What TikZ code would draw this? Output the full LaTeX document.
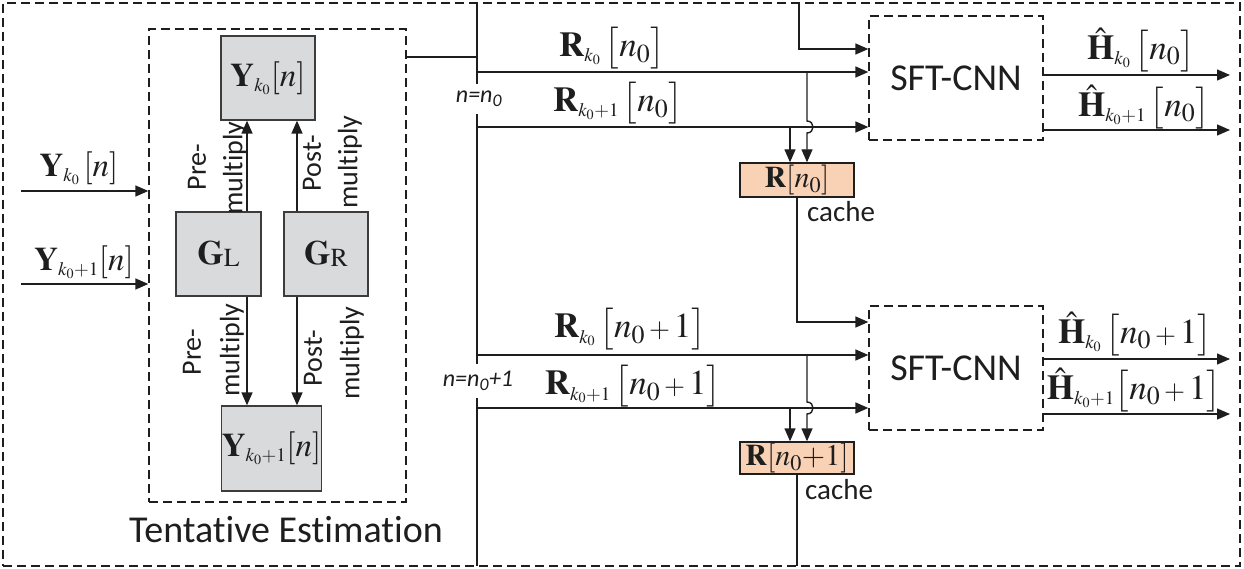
\documentclass[tikz,border=0pt]{standalone}
\usepackage{mathptmx}
\usepackage[no-math]{fontspec}
\setmainfont{Carlito}[Ligatures=NoCommon]
\usetikzlibrary{arrows.meta}
\newcommand\myfs[1]{\fontsize{#1}{#1}\selectfont}
\newcommand\sbs[1]{\mbox{\myfs{19}$#1$}}
\newcommand\pone{\,\mbox{\myfs{27}$+$}\,1}
\definecolor{boxgray}{HTML}{D9DADB}
\definecolor{boxedge}{HTML}{3C3C3C}
\definecolor{peach}{HTML}{F9D2B6}
\definecolor{ink}{HTML}{1E1E1E}
\begin{document}
\begin{tikzpicture}[x=1pt,y=-1pt,line width=1.4pt,color=ink,
 arr/.style={-{Triangle[length=13pt,width=11pt]}},
 dbox/.style={draw,dash pattern=on 9pt off 5pt,line width=1.3pt,inner sep=0},
 gbox/.style={draw=boxedge,fill=boxgray,inner sep=0,line width=1.3pt},
 cbox/.style={draw,fill=peach,inner sep=0,minimum width=114pt,font=\myfs{30}},
 txt/.style={inner sep=0,font=\myfs{28}},
 mlbl/.style={inner sep=0,font=\myfs{35}},
 ylbl/.style={inner sep=0,font=\myfs{33}},
 nlbl/.style={fill=white,inner xsep=1pt,inner ysep=7pt,font=\myfs{24}\itshape},
 ]
\useasboundingbox (0,0) rectangle (1244,569);
% frames
\node[dbox,minimum width=1237pt,minimum height=563pt] (outer) at (621.5,284.5) {};
\node[dbox,minimum width=257pt,minimum height=473pt] (tent) at (277.5,265.5) {};
\node[font=\myfs{38},inner sep=0] (tentlbl) at (286,530) {Tentative Estimation};
% gray boxes
\node[gbox,minimum width=94pt,minimum height=84pt,font=\myfs{33}] (Y0) at (268,78) {$\mathbf{Y}_{\sbs{k_0}}[n]$};
\node[gbox,minimum width=85pt,minimum height=84pt,font=\myfs{34}] (GL) at (218.5,254) {$\mathbf{G}$\raisebox{-2pt}{\myfs{26}$\mathrm{L}$}};
\node[gbox,minimum width=84pt,minimum height=84pt,font=\myfs{34}] (GR) at (326,254) {$\mathbf{G}$\raisebox{-2pt}{\myfs{26}$\mathrm{R}$}};
\node[gbox,minimum width=95pt,minimum height=85pt,font=\myfs{33}] (Y1) at (271.5,448.5) {$\mathbf{Y}_{\sbs{k_0{+}1}}[n]$};
% x positions
\coordinate (xa) at (247,0);
\coordinate (xb) at (297,0);
\draw[arr] (GL.north -| xa) -- (Y0.south -| xa);
\draw[arr] (GR.north -| xb) -- (Y0.south -| xb);
\draw[arr] (GL.south -| xa) -- (Y1.north -| xa);
\draw[arr] (GR.south -| xb) -- (Y1.north -| xb);
\node[txt,rotate=90] (pre1) at (197,167) {Pre-};
\node[txt,rotate=90] (mul1) at (235,168) {multiply};
\node[txt,rotate=90] (post1) at (312,163) {Post-};
\node[txt,rotate=90] (mul2) at (350,162) {multiply};
\node[txt,rotate=90] (pre2) at (192,352) {Pre-};
\node[txt,rotate=90] (mul3) at (232,350) {multiply};
\node[txt,rotate=90] (post2) at (313,358) {Post-};
\node[txt,rotate=90] (mul4) at (352,353) {multiply};
% inputs
\coordinate (i1) at (21,191);
\coordinate (i2) at (21,284);
\draw[arr] (i1) -- (tent.west |- i1);
\draw[arr] (i2) -- (tent.west |- i2);
\node[ylbl] (li1) at (79,168) {$\mathbf{Y}_{\sbs{k_0}}\,[n]$};
\node[ylbl] (li2) at (84,262) {$\mathbf{Y}_{\sbs{k_0{+}1}}[n]$};
% bus
\coordinate (bustop) at (477,3);
\coordinate (busbot) at (477,566);
\draw (bustop) -- (busbot);
\coordinate (t1) at (0,57);
\draw (tent.east |- t1) -- (bustop |- t1);
\node[nlbl] (nn0) at (479,99) {n=n\textsubscript{0}};
\node[nlbl] (nn1) at (478,381) {n=n\textsubscript{0}+1};
% SFT-CNN boxes
\node[dbox,minimum width=174pt,minimum height=124pt,font=\myfs{38}] (S1) at (956,78) {SFT-CNN};
\node[dbox,minimum width=174pt,minimum height=124pt,font=\myfs{38}] (S2) at (956,368) {SFT-CNN};
% caches
\node[cbox,minimum height=34pt] (C1) at (797,180) {$\mathbf{R}[n_0]$};
\node[cbox,minimum height=32pt] (C2) at (797,458) {$\mathbf{R}[n_0{+}1]$};
\node[txt,font=\myfs{29}] (cl1) at (841,212) {cache};
\node[txt,font=\myfs{29}] (cl2) at (839,490) {cache};
% R lines first stage
\coordinate (r1) at (477,72);
\coordinate (r2) at (477,127);
\draw[arr] (r1) -- (S1.west |- r1);
\draw[arr] (r2) -- (S1.west |- r2);
\coordinate (tin) at (799,3);
\coordinate (ty) at (0,49);
\draw[arr] (tin) |- (S1.west |- ty);
\coordinate (b1) at (807,72);
\coordinate (b2) at (790,127);
\draw[arr] (b1) -- (807,121) .. controls (815,121) and (815,133) .. (807,133) -- (C1.north -| b1);
\draw[arr] (b2) -- (C1.north -| b2);
\coordinate (fy) at (0,322);
\draw[arr] (C1.south) |- (S2.west |- fy);
% R lines second stage
\coordinate (r3) at (477,355);
\coordinate (r4) at (477,408);
\draw[arr] (r3) -- (S2.west |- r3);
\draw[arr] (r4) -- (S2.west |- r4);
\coordinate (b3) at (807,355);
\coordinate (b4) at (790,408);
\draw[arr] (b3) -- (807,402) .. controls (815,402) and (815,414) .. (807,414) -- (C2.north -| b3);
\draw[arr] (b4) -- (C2.north -| b4);
\draw (C2.south) -- (C2.south |- busbot);
% outputs
\coordinate (o1) at (1230,75);
\coordinate (o2) at (1230,130);
\coordinate (o3) at (1230,359);
\coordinate (o4) at (1230,414);
\draw[arr] (S1.east |- o1) -- (o1);
\draw[arr] (S1.east |- o2) -- (o2);
\draw[arr] (S2.east |- o3) -- (o3);
\draw[arr] (S2.east |- o4) -- (o4);
% labels
\node[mlbl] (lr1) at (612,48) {$\mathbf{R}_{\sbs{k_0}}\,\bigl[n_0\bigr]$};
\node[mlbl] (lr2) at (618,103) {$\mathbf{R}_{\sbs{k_0{+}1}}\,\bigl[n_0\bigr]$};
\node[mlbl] (lr3) at (630,329) {$\mathbf{R}_{\sbs{k_0}}\,\bigl[n_0\pone\bigr]$};
\node[mlbl] (lr4) at (633,386) {$\mathbf{R}_{\sbs{k_0{+}1}}\,\bigl[n_0\pone\bigr]$};
\node[mlbl] (lh1) at (1141,50) {$\hat{\mathbf{H}}_{\sbs{k_0}}\,\bigl[n_0\bigr]$};
\node[mlbl] (lh2) at (1144,107) {$\hat{\mathbf{H}}_{\sbs{k_0{+}1}}\,\bigl[n_0\bigr]$};
\node[mlbl] (lh3) at (1135,334) {$\hat{\mathbf{H}}_{\sbs{k_0}}\,\bigl[n_0\pone\bigr]$};
\node[mlbl] (lh4) at (1134,390) {$\hat{\mathbf{H}}_{\sbs{k_0{+}1}}\bigl[n_0\pone\bigr]$};
\end{tikzpicture}
\end{document}
